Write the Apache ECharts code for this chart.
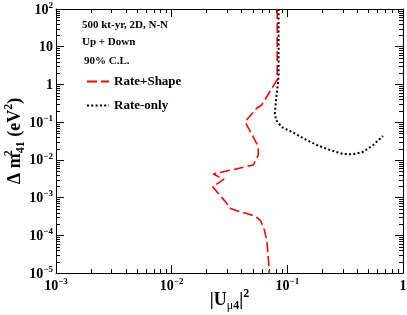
<!DOCTYPE html>
<html><head><meta charset="utf-8">
<script src="https://cdn.jsdelivr.net/npm/echarts@6/dist/echarts.min.js"></script>
<style>html,body{margin:0;padding:0;background:#fff}#c{width:407px;height:315px}</style>
</head><body><div id="c"></div>
<script>
// ---- data ----
const xRange = [0.001, 1];
const yRange = [1e-5, 100];
const tickMultipliers = [2, 3, 4, 5, 6, 7, 8, 9];
const seriesNames = ['Rate+Shape', 'Rate-only'];
const headerLines = ['500 kt-yr, 2D, N-N', 'Up + Down', '90% C.L.'];

const rateShapeU  = [0.0818, 0.0818, 0.0781, 0.0664, 0.0600, 0.0543, 0.0431, 0.0492, 0.0561, 0.0561, 0.0508, 0.0229, 0.0283, 0.0226, 0.0299, 0.0319, 0.0390, 0.0525, 0.0589, 0.0633, 0.0664, 0.0684, 0.0698];
const rateShapeDm = [100, 1.31, 1.07, 0.472, 0.284, 0.233, 0.1026, 0.0484, 0.0223, 0.0134, 0.0073, 0.00421, 0.00305, 0.00194, 0.000703, 0.000519, 0.000422, 0.000324, 0.000243, 0.000138, 7.5e-5, 2.7e-5, 1e-5];

const rateOnlyU  = [0.0840, 0.0840, 0.0830, 0.0798, 0.0781, 0.0798, 0.0894, 0.1127, 0.1374, 0.1795, 0.234, 0.305, 0.371, 0.454, 0.553, 0.671];
const rateOnlyDm = [100, 1.78, 1.09, 0.386, 0.175, 0.114, 0.0743, 0.0525, 0.0372, 0.0248, 0.0182, 0.0143, 0.0141, 0.0164, 0.0248, 0.0429];

// ---- build ----
function decadesBetween(a, b) {
  const out = [];
  for (let e = Math.round(Math.log10(a)); e < Math.round(Math.log10(b)); e++) {
    tickMultipliers.forEach(m => out.push(m * Math.pow(10, e)));
  }
  return out;
}
const xMinor = decadesBetween(xRange[0], xRange[1]);
const yMinor = decadesBetween(yRange[0], yRange[1]);

const FONT = 'Liberation Serif';
const labelRich = {
  b: {fontFamily: FONT, fontWeight: 'bold', fontSize: 14, lineHeight: 16, color: '#000', verticalAlign: 'bottom'},
  s: {fontFamily: FONT, fontWeight: 'bold', fontSize: 9, lineHeight: 7, color: '#000', verticalAlign: 'top'}
};
function logLabel(v) {
  const e = Math.round(Math.log10(v));
  if (e === 0) return '{b|1}';
  if (e === 1) return '{b|10}';
  return '{b|10}{s|' + (e < 0 ? '\u2212' + (-e) : e) + '}';
}
const nameRich = {
  t:   {fontFamily: FONT, fontWeight: 'bold', fontSize: 18, lineHeight: 24, color: '#000', verticalAlign: 'middle'},
  mu:  {fontFamily: FONT, fontWeight: 'normal', fontSize: 12, lineHeight: 13, color: '#000', verticalAlign: 'bottom'},
  sub: {fontFamily: FONT, fontWeight: 'bold', fontSize: 12, lineHeight: 13, color: '#000', verticalAlign: 'bottom'},
  sup: {fontFamily: FONT, fontWeight: 'bold', fontSize: 12, lineHeight: 17, color: '#000', verticalAlign: 'top'},
  sup0:{fontFamily: FONT, fontWeight: 'bold', fontSize: 12, lineHeight: 17, color: '#000', verticalAlign: 'top', width: 0}
};

const tickStyle = {show: true, inside: true, length: 8, lineStyle: {color: '#000', width: 1}};
const lineAx = {show: true, lineStyle: {color: '#000', width: 1}};

function minorTicks(isX, len) {
  return function (params, api) {
    const v = api.value(isX ? 0 : 1);
    const mk = (x1, y1, x2, y2) => ({type: 'line', shape: {x1, y1, x2, y2}, style: {stroke: '#000', lineWidth: 1}});
    if (isX) {
      const a = api.coord([v, yRange[0]]), b = api.coord([v, yRange[1]]);
      const x = Math.round(a[0]) + 0.5;
      return {type: 'group', children: [mk(x, a[1], x, a[1] - len), mk(x, b[1], x, b[1] + len)]};
    } else {
      const a = api.coord([xRange[0], v]), b = api.coord([xRange[1], v]);
      const y = Math.round(a[1]) + 0.5;
      return {type: 'group', children: [mk(a[0], y, a[0] + len, y), mk(b[0], y, b[0] - len, y)]};
    }
  };
}

const chart = echarts.init(document.getElementById('c'), null, {renderer: 'canvas'});
chart.setOption({
  animation: false,
  backgroundColor: '#fff',
  grid: {left: 56, right: 4, top: 9, bottom: 42, containLabel: false, outerBoundsMode: 'none'},
  xAxis: [{
    type: 'log', logBase: 10, min: xRange[0], max: xRange[1], splitNumber: 3,
    axisLine: lineAx, axisTick: tickStyle, splitLine: {show: false},
    axisLabel: {margin: 4, formatter: logLabel, rich: labelRich},
    name: '{t||U}{mu|\u03bc}{sub|4}{t||}{sup|2}', nameLocation: 'middle', nameGap: 15,
    nameMoveOverlap: false,
    nameTextStyle: {rich: nameRich}
  }, {
    type: 'log', logBase: 10, min: xRange[0], max: xRange[1], splitNumber: 3, position: 'top',
    axisLine: lineAx, axisTick: tickStyle, splitLine: {show: false}, axisLabel: {show: false}
  }],
  yAxis: [{
    type: 'log', logBase: 10, min: yRange[0], max: yRange[1], splitNumber: 7,
    axisLine: lineAx, axisTick: tickStyle, splitLine: {show: false},
    axisLabel: {margin: 3, formatter: logLabel, rich: labelRich},
    name: '{t|\u0394 m}{sup0|2}{sub|41}{t| (eV}{sup|2}{t|)}', nameLocation: 'middle', nameGap: 29,
    nameMoveOverlap: false,
    nameTextStyle: {rich: nameRich}
  }, {
    type: 'log', logBase: 10, min: yRange[0], max: yRange[1], splitNumber: 7, position: 'right',
    axisLine: lineAx, axisTick: tickStyle, splitLine: {show: false}, axisLabel: {show: false}
  }],
  legend: {
    data: seriesNames, orient: 'vertical', left: 86, top: 75, padding: 0,
    itemWidth: 22, itemHeight: 14, itemGap: 11, selectedMode: false,
    itemStyle: {opacity: 0},
    textStyle: {fontFamily: FONT, fontWeight: 'bold', fontSize: 13, color: '#000'}
  },
  graphic: headerLines.map((t, i) => ({
    type: 'text', x: [82, 82, 84][i], y: [25, 42, 61][i], silent: true,
    style: {text: t, font: 'bold 11px "Liberation Serif"', fill: '#000', verticalAlign: 'middle'}
  })),
  series: [
    {type: 'custom', silent: true, clip: false, renderItem: minorTicks(true, 4), data: xMinor.map(v => [v, yRange[0]])},
    {type: 'custom', silent: true, clip: false, renderItem: minorTicks(false, 4), data: yMinor.map(v => [xRange[0], v])},
    {
      name: seriesNames[0], type: 'line', symbol: 'none', showSymbol: false,
      data: rateShapeU.map((u, i) => [u, rateShapeDm[i]]),
      lineStyle: {color: '#ff0000', width: 1.6, type: [10, 4]}, itemStyle: {color: '#ff0000'}
    },
    {
      name: seriesNames[1], type: 'line', symbol: 'none', showSymbol: false,
      data: rateOnlyU.map((u, i) => [u, rateOnlyDm[i]]),
      lineStyle: {color: '#000', width: 2, type: [2, 2.3]}, itemStyle: {color: '#000'}
    }
  ]
});
</script></body></html>
